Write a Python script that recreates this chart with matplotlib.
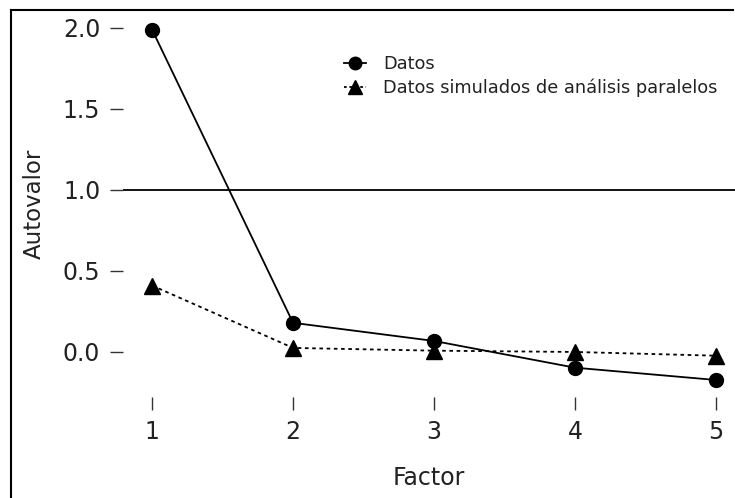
import matplotlib
matplotlib.use("Agg")
import matplotlib.pyplot as plt
from matplotlib.lines import Line2D

factors = [1, 2, 3, 4, 5]
datos = [1.99, 0.18, 0.068, -0.097, -0.173]
simulados = [0.41, 0.025, 0.008, 0.0, -0.023]
yticks = [0.0, 0.5, 1.0, 1.5, 2.0]
ytick_labels = ["0.0", "0.5", "1.0", "1.5", "2.0"]
xtick_labels = ["1", "2", "3", "4", "5"]

plt.rcParams['font.family'] = ['DejaVu Sans']

W, H = 735, 498
fig = plt.figure(figsize=(W / 100, H / 100), dpi=100)

def px(x0, y0, x1, y1):
    return [x0 / W, 1 - y1 / H, (x1 - x0) / W, (y1 - y0) / H]

ax = fig.add_axes(px(123, 10, 735, 397))
ax.set_xlim(0.794, 5.135)
ax.set_ylim(-0.278, 2.111)
for s in ax.spines.values():
    s.set_visible(False)

ax.axhline(1.0, color='black', lw=1.3, zorder=1)
ax.plot(factors, simulados, color='black', lw=1.3, ls=(0, (2, 2)),
        marker='^', markersize=11, zorder=2)
ax.plot(factors, datos, color='black', lw=1.3, ls='-',
        marker='o', markersize=10, zorder=3)

ax.set_xticks(factors)
ax.set_xticklabels(xtick_labels)
ax.set_yticks(yticks)
ax.set_yticklabels(ytick_labels)
ax.tick_params(axis='both', direction='out', length=9.4, width=1, color='#333333',
               labelsize=17, labelcolor='#222222', pad=7)
ax.set_xlabel("Factor", fontsize=17, labelpad=16, color='#222222')
ax.set_ylabel("Autovalor", fontsize=16.5, labelpad=12, color='#222222')

handles = [
    Line2D([0], [0], color='black', lw=1.3, ls='-', marker='o', markersize=9),
    Line2D([0], [0], color='black', lw=1.3, ls=(0, (1.5, 1.5)), marker='^', markersize=10),
]
leg = ax.legend(handles, ["Datos", "Datos simulados de análisis paralelos"],
                loc='upper left', bbox_to_anchor=((344 - 123) / 612, (397 - 55) / 387),
                frameon=False, fontsize=12.8, handlelength=1.25, handletextpad=0.95,
                labelspacing=0.32, borderaxespad=0, borderpad=0)
for t in leg.get_texts():
    t.set_color('#222222')

# screenshot frame (left and top borders)
fig.add_artist(Line2D([11 / W, 11 / W], [0, 1 - 10 / H], color='black', lw=1.5,
                      transform=fig.transFigure))
fig.add_artist(Line2D([11 / W, 733 / W], [1 - 10 / H, 1 - 10 / H], color='black', lw=1.5,
                      transform=fig.transFigure))

fig.savefig("out.png", dpi=100)
